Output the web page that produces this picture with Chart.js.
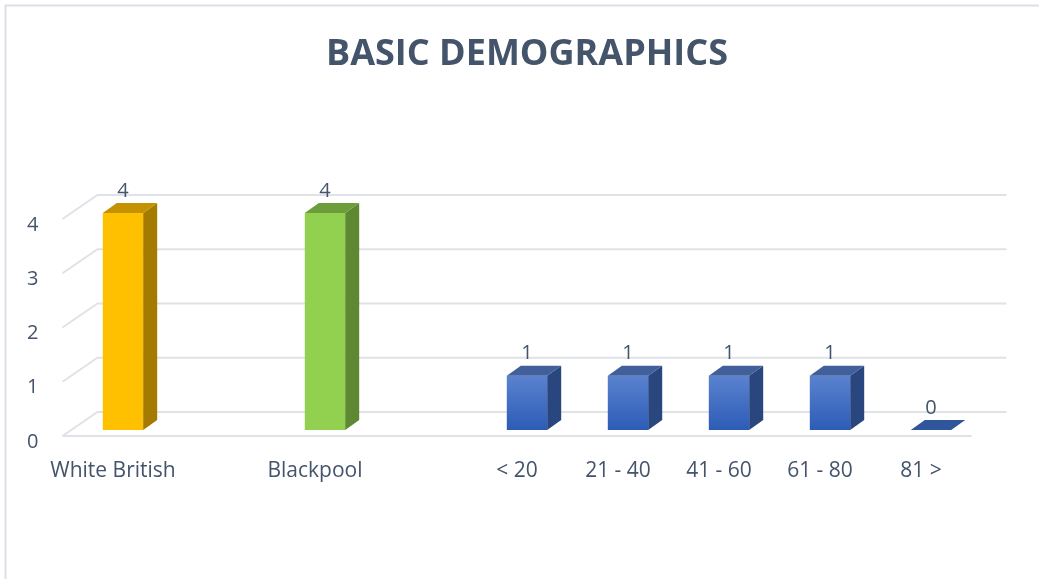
<!DOCTYPE html>
<html>
<head>
<meta charset="utf-8">
<title>Basic Demographics</title>
<script src="https://cdn.jsdelivr.net/npm/chart.js@4.4.1/dist/chart.umd.min.js"></script>
<style>
  html, body { margin: 0; padding: 0; background: #fff; }
  #chart { display: block; }
</style>
</head>
<body>
<canvas id="chart" width="1039" height="579"></canvas>
<script>
// data (empty slots are the gaps between groups)
const categories = ['White British', '', 'Blackpool', '', '< 20', '21 - 40', '41 - 60', '61 - 80', '81 >'];
const counts = [4, null, 4, null, 1, 1, 1, 1, 0];
const yTicks = [0, 1, 2, 3, 4];
const chartTitle = 'BASIC DEMOGRAPHICS';

// colours for each bar: front, top, side
const frontColors = ['#FFC000', null, '#92D050', null, 'blue', 'blue', 'blue', 'blue', 'blue'];
const topColors = ['#C49200', null, '#6D9C3B', null, '#415F9B', '#415F9B', '#415F9B', '#415F9B', '#2F559A'];
const sideColors = ['#A47B00', null, '#5E8831', null, '#29467F', '#29467F', '#29467F', '#29467F', '#29467F'];

const textColor = '#44546A';
const gridColor = '#DFE2E7';
const font = "'Open Sans', 'Noto Sans', sans-serif";

// 3d offsets
const depth = { dx: 14, dy: -10 };
const wall = { dx: 25, dy: -18 };
const floorFront = { dx: -10, dy: 6 };

// border + title (the title sits over the plot area, not the canvas centre)
const frame = {
  id: 'frame',
  beforeDraw(chart) {
    const ctx = chart.ctx;
    const area = chart.chartArea;
    ctx.save();
    ctx.strokeStyle = '#DCE0E6';
    ctx.lineWidth = 2;
    ctx.beginPath();
    ctx.moveTo(5.5, chart.height);
    ctx.lineTo(5.5, 5.5);
    ctx.lineTo(chart.width, 5.5);
    ctx.stroke();
    ctx.fillStyle = textColor;
    ctx.font = 'bold 36px ' + font;
    ctx.textAlign = 'center';
    ctx.textBaseline = 'middle';
    ctx.fillText(chartTitle, (area.left + area.right) / 2, 55);
    ctx.restore();
  }
};

const grid3d = {
  id: 'grid3d',
  beforeDatasetsDraw(chart) {
    const ctx = chart.ctx;
    const area = chart.chartArea;
    const y = chart.scales.y;
    ctx.save();
    ctx.strokeStyle = gridColor;
    ctx.lineWidth = 2;
    yTicks.forEach(v => {
      const py = y.getPixelForValue(v);
      ctx.beginPath();
      ctx.moveTo(area.left + floorFront.dx, py + floorFront.dy);
      ctx.lineTo(area.left + wall.dx, py + wall.dy);
      ctx.lineTo(area.right + wall.dx, py + wall.dy);
      ctx.stroke();
    });
    // front edge of the floor
    const p0 = y.getPixelForValue(0);
    ctx.beginPath();
    ctx.moveTo(area.left + floorFront.dx, p0 + floorFront.dy);
    ctx.lineTo(area.right + floorFront.dx, p0 + floorFront.dy);
    ctx.stroke();
    ctx.restore();
  }
};

const bars3d = {
  id: 'bars3d',
  afterDatasetsDraw(chart) {
    const ctx = chart.ctx;
    const meta = chart.getDatasetMeta(0);
    ctx.save();
    meta.data.forEach((bar, i) => {
      if (counts[i] === null) return;
      const p = bar.getProps(['x', 'y', 'base', 'width'], true);
      const l = p.x - p.width / 2;
      const r = p.x + p.width / 2;
      // side
      if (p.base - p.y > 0) {
        ctx.fillStyle = sideColors[i];
        ctx.beginPath();
        ctx.moveTo(r, p.y);
        ctx.lineTo(r + depth.dx, p.y + depth.dy);
        ctx.lineTo(r + depth.dx, p.base + depth.dy);
        ctx.lineTo(r, p.base);
        ctx.closePath();
        ctx.fill();
      }
      // top
      ctx.fillStyle = topColors[i];
      ctx.beginPath();
      ctx.moveTo(l, p.y);
      ctx.lineTo(l + depth.dx, p.y + depth.dy);
      ctx.lineTo(r + depth.dx, p.y + depth.dy);
      ctx.lineTo(r, p.y);
      ctx.closePath();
      ctx.fill();
      // value label
      ctx.fillStyle = textColor;
      ctx.font = '20px ' + font;
      ctx.textAlign = 'center';
      ctx.textBaseline = 'middle';
      ctx.fillText(String(counts[i]), p.x, p.y + depth.dy - 12);
    });
    ctx.restore();
  }
};

// blue bars shade from light at the top to darker at the base
function frontColor(context) {
  const c = frontColors[context.dataIndex];
  if (c !== 'blue') return c;
  const y = context.chart.scales.y;
  if (!y || !context.chart.chartArea) return '#4472C4';
  const top = y.getPixelForValue(counts[context.dataIndex]);
  const base = y.getPixelForValue(0);
  if (base - top < 1) return '#2F559A';
  const g = context.chart.ctx.createLinearGradient(0, top, 0, base);
  g.addColorStop(0, '#5A82CF');
  g.addColorStop(1, '#2D5CB6');
  return g;
}

new Chart(document.getElementById('chart'), {
  type: 'bar',
  data: {
    labels: categories,
    datasets: [{
      data: counts,
      backgroundColor: frontColor,
      categoryPercentage: 1,
      barPercentage: 0.4
    }]
  },
  plugins: [frame, grid3d, bars3d],
  options: {
    responsive: false,
    animation: false,
    layout: { padding: { left: 0, right: 57.5, top: 213, bottom: 0 } },
    plugins: {
      legend: { display: false },
      tooltip: { enabled: false },
      title: { display: false }
    },
    scales: {
      x: {
        grid: { display: false, drawTicks: false },
        border: { display: false },
        afterFit(scale) { scale.height = 149; },
        ticks: {
          color: textColor,
          font: { family: font, size: 21 },
          padding: 28,
          labelOffset: floorFront.dx,
          maxRotation: 0,
          autoSkip: false
        }
      },
      y: {
        min: 0,
        max: 4,
        grid: { display: false, drawTicks: false },
        border: { display: false },
        afterFit(scale) { scale.width = 72.5; },
        ticks: {
          stepSize: 1,
          color: textColor,
          font: { family: font, size: 20 },
          padding: 34,
          labelOffset: 12
        }
      }
    }
  }
});
</script>
</body>
</html>
